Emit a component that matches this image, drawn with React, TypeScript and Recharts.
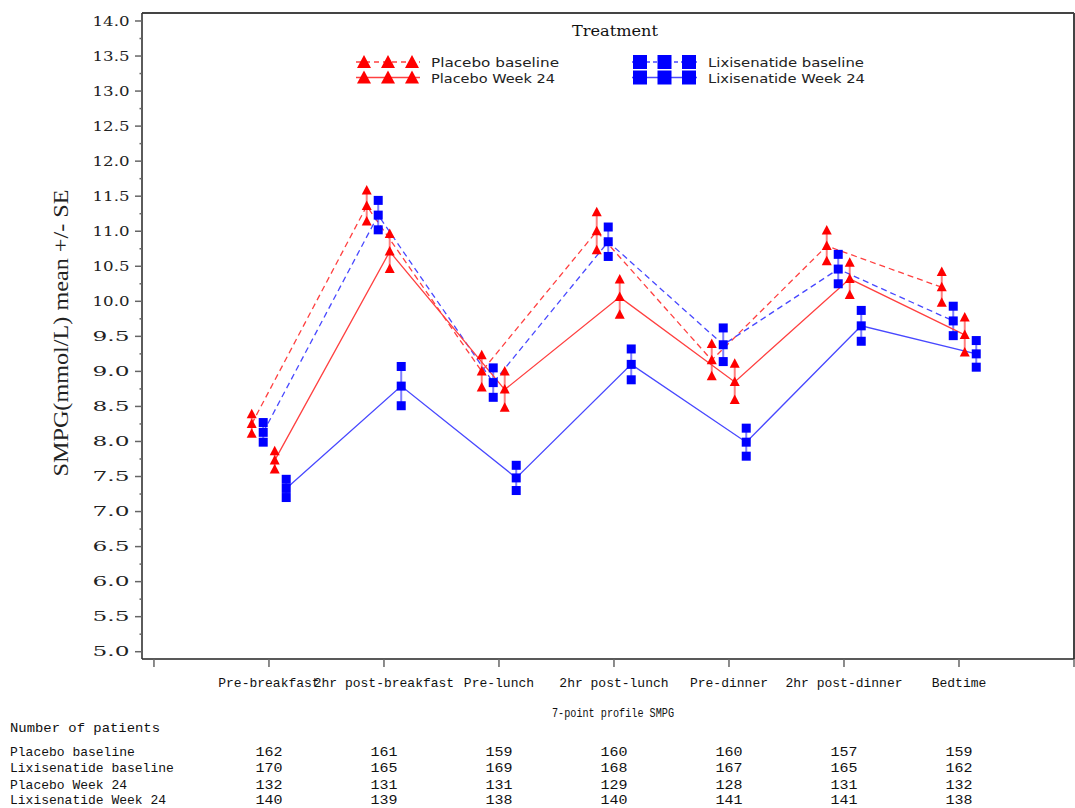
import React from 'react';
import { ComposedChart, Line, Scatter, XAxis, YAxis, ErrorBar, ReferenceLine } from 'recharts';

// ---------- data ----------
const categories = ['Pre-breakfast', '2hr post-breakfast', 'Pre-lunch', '2hr post-lunch', 'Pre-dinner', '2hr post-dinner', 'Bedtime'];

const placeboBaselineMean = [8.25, 11.36, 9.0, 11.0, 9.16, 10.79, 10.2];
const placeboBaselineSE = [0.14, 0.22, 0.23, 0.27, 0.23, 0.22, 0.22];
const lixiBaselineMean = [8.13, 11.23, 8.84, 10.85, 9.38, 10.46, 9.72];
const lixiBaselineSE = [0.14, 0.21, 0.21, 0.21, 0.24, 0.21, 0.21];
const placeboW24Mean = [7.73, 10.71, 8.74, 10.06, 8.85, 10.32, 9.52];
const placeboW24SE = [0.13, 0.25, 0.26, 0.25, 0.26, 0.23, 0.25];
const lixiW24Mean = [7.33, 8.79, 7.48, 9.1, 7.99, 9.65, 9.25];
const lixiW24SE = [0.13, 0.28, 0.18, 0.22, 0.2, 0.22, 0.19];

const nPlaceboBaseline = [162, 161, 159, 160, 160, 157, 159];
const nLixiBaseline = [170, 165, 169, 168, 167, 165, 162];
const nPlaceboW24 = [132, 131, 131, 129, 128, 131, 132];
const nLixiW24 = [140, 139, 138, 140, 141, 141, 138];

const yMajorTicks = [5.0, 5.5, 6.0, 6.5, 7.0, 7.5, 8.0, 8.5, 9.0, 9.5, 10.0, 10.5, 11.0, 11.5, 12.0, 12.5, 13.0, 13.5, 14.0];
const yMinorTicks = [5.25, 5.75, 6.25, 6.75, 7.25, 7.75, 8.25, 8.75, 9.25, 9.75, 10.25, 10.75, 11.25, 11.75, 12.25, 12.75, 13.25, 13.75];
const xTicks = [0, 1, 2, 3, 4, 5, 6, 7, 8];

// ---------- layout ----------
const W = 1075;
const H = 808;
const PLOT_LEFT = 142;
const PLOT_RIGHT = 1074;
const PLOT_TOP = 13;
const PLOT_BOTTOM = 659;
const X_MIN = -0.104;
const X_MAX = 8;
const Y_MIN = 4.896;
const Y_MAX = 14.114;

const RED = '#ff0000';
const BLUE = '#0000ff';

type Series = {
  name: string;
  mean: number[];
  se: number[];
  offset: number;
  color: string;
  lineColor: string;
  dashed: boolean;
  marker: 'triangle' | 'square';
};

const series: Series[] = [
  { name: 'Placebo baseline', mean: placeboBaselineMean, se: placeboBaselineSE, offset: -0.15, color: RED, lineColor: '#ff4040', dashed: true, marker: 'triangle' },
  { name: 'Lixisenatide baseline', mean: lixiBaselineMean, se: lixiBaselineSE, offset: -0.05, color: BLUE, lineColor: '#4848ff', dashed: true, marker: 'square' },
  { name: 'Placebo Week 24', mean: placeboW24Mean, se: placeboW24SE, offset: 0.05, color: RED, lineColor: '#ff4040', dashed: false, marker: 'triangle' },
  { name: 'Lixisenatide Week 24', mean: lixiW24Mean, se: lixiW24SE, offset: 0.15, color: BLUE, lineColor: '#4848ff', dashed: false, marker: 'square' },
];

const lineData = (s: Series) => categories.map((_, i) => ({ x: i + 1 + s.offset, y: s.mean[i], se: s.se[i] }));
const markerData = (s: Series) =>
  categories.flatMap((_, i) => [
    { x: i + 1 + s.offset, y: s.mean[i] - s.se[i] },
    { x: i + 1 + s.offset, y: s.mean[i] },
    { x: i + 1 + s.offset, y: s.mean[i] + s.se[i] },
  ]);

const TriangleShape = (color: string) => (p: any) => {
  const { cx, cy } = p;
  if (cx == null || cy == null) return <g />;
  return <path d={`M${cx},${cy - 5.5} L${cx + 5},${cy + 4} L${cx - 5},${cy + 4} Z`} fill={color} />;
};
const SquareShape = (color: string) => (p: any) => {
  const { cx, cy } = p;
  if (cx == null || cy == null) return <g />;
  return <rect x={cx - 4.5} y={cy - 4.5} width={9} height={9} fill={color} />;
};

const XTick = (props: any) => {
  const { x, y, payload } = props;
  const v = payload.value as number;
  const label = v >= 1 && v <= 7 ? categories[v - 1] : '';
  return (
    <g>
      <line x1={x} x2={x} y1={y} y2={y + 8} stroke="#666" strokeWidth={1.5} />
      {label ? (
        <text x={x} y={y + 28} textAnchor="middle" fontFamily="Liberation Mono" fontSize={13} fill="#111">
          {label}
        </text>
      ) : null}
    </g>
  );
};

const YTick = (props: any) => {
  const { x, y, payload } = props;
  const v = payload.value as number;
  const major = yMajorTicks.includes(v);
  return (
    <g>
      <line x1={x - (major ? 7 : 2.5)} x2={x} y1={y} y2={y} stroke="#666" strokeWidth={1.5} />
      {major ? (
        <text x={129.5} y={y + 4.7} textAnchor="end" fontFamily="DejaVu Serif" fontSize={13} fill="#222" textLength={37} lengthAdjust="spacingAndGlyphs">
          {v.toFixed(1)}
        </text>
      ) : null}
    </g>
  );
};

const xPix = (v: number) => PLOT_LEFT + ((v - X_MIN) * (PLOT_RIGHT - PLOT_LEFT)) / (X_MAX - X_MIN);

const allYTicks = [...yMajorTicks, ...yMinorTicks].sort((a, b) => a - b);

const tableRows: { label: string; n: number[] }[] = [
  { label: 'Placebo baseline', n: nPlaceboBaseline },
  { label: 'Lixisenatide baseline', n: nLixiBaseline },
  { label: 'Placebo Week 24', n: nPlaceboW24 },
  { label: 'Lixisenatide Week 24', n: nLixiW24 },
];
const tableRowY = [755.5, 772, 788.5, 804];

const legendTriX = [364, 388, 412];
const legendSqX = [640, 664.5, 689];

const Legend = () => (
  <g>
    <text x={615} y={36} textAnchor="middle" fontFamily="DejaVu Serif" fontSize={14} fill="#111" textLength={86} lengthAdjust="spacingAndGlyphs">
      Treatment
    </text>
    {[0, 1].map((r) => {
      const cy = r === 0 ? 62 : 77.5;
      return (
        <g key={'p' + r}>
          <line x1={356} x2={420} y1={cy} y2={cy} stroke="#ff4040" strokeWidth={1.3} strokeDasharray={r === 0 ? '5 4' : undefined} />
          {legendTriX.map((cx) => (
            <path key={cx} d={`M${cx},${cy - 7} L${cx + 7},${cy + 6} L${cx - 7},${cy + 6} Z`} fill={RED} />
          ))}
          <text x={431} y={cy + 5} fontFamily="DejaVu Sans" fontSize={12.5} fill="#222" textLength={r === 0 ? 128 : 124} lengthAdjust="spacingAndGlyphs">
            {r === 0 ? 'Placebo baseline' : 'Placebo Week 24'}
          </text>
        </g>
      );
    })}
    {[0, 1].map((r) => {
      const cy = r === 0 ? 62 : 77.5;
      return (
        <g key={'l' + r}>
          <line x1={632} x2={697} y1={cy} y2={cy} stroke="#4848ff" strokeWidth={1.3} strokeDasharray={r === 0 ? '4 3' : undefined} />
          {legendSqX.map((cx) => (
            <rect key={cx} x={cx - 7} y={cy - 7} width={14} height={14} fill={BLUE} />
          ))}
          <text x={708} y={cy + 5} fontFamily="DejaVu Sans" fontSize={12.5} fill="#222" textLength={r === 0 ? 156 : 157} lengthAdjust="spacingAndGlyphs">
            {r === 0 ? 'Lixisenatide baseline' : 'Lixisenatide Week 24'}
          </text>
        </g>
      );
    })}
  </g>
);

export default function App() {
  return (
    <div style={{ position: 'absolute', left: 0, top: 0, width: W, height: H, background: '#fff', overflow: 'hidden' }}>
      <ComposedChart width={W} height={H} margin={{ top: PLOT_TOP, right: W - PLOT_RIGHT, bottom: 0, left: 0 }}>
        <XAxis
          type="number"
          dataKey="x"
          domain={[X_MIN, X_MAX]}
          ticks={xTicks}
          interval={0}
          allowDataOverflow
          height={H - PLOT_BOTTOM}
          tickSize={0}
          tickMargin={0}
          tickLine={false}
          tick={<XTick />}
          axisLine={{ stroke: '#222', strokeWidth: 1.6 }}
        />
        <YAxis
          type="number"
          domain={[Y_MIN, Y_MAX]}
          ticks={allYTicks}
          interval={0}
          allowDataOverflow
          width={PLOT_LEFT}
          tickSize={0}
          tickMargin={0}
          tickLine={false}
          tick={<YTick />}
          axisLine={{ stroke: '#333', strokeWidth: 1.6 }}
        />
        <ReferenceLine y={Y_MAX} stroke="#444" strokeWidth={2} ifOverflow="visible" />
        <ReferenceLine x={X_MAX} stroke="#444" strokeWidth={2} ifOverflow="visible" />
        {series.map((s) => (
          <Line
            key={'line-' + s.name}
            data={lineData(s)}
            dataKey="y"
            name={s.name}
            stroke={s.lineColor}
            strokeWidth={1.3}
            strokeDasharray={s.dashed ? '6 4' : undefined}
            dot={false}
            activeDot={false}
            isAnimationActive={false}
          >
            <ErrorBar dataKey="se" width={0} stroke={s.color} strokeOpacity={0.5} strokeWidth={2} direction="y" />
          </Line>
        ))}
        {series.map((s) => (
          <Scatter
            key={'mk-' + s.name}
            data={markerData(s)}
            dataKey="y"
            name={s.name + ' markers'}
            isAnimationActive={false}
            shape={s.marker === 'triangle' ? TriangleShape(s.color) : SquareShape(s.color)}
          />
        ))}
      </ComposedChart>
      <svg width={W} height={H} style={{ position: 'absolute', left: 0, top: 0, pointerEvents: 'none' }}>
        <Legend />
        <text
          transform="translate(68,333) rotate(-90)"
          textAnchor="middle"
          fontFamily="Liberation Serif"
          fontSize={20}
          fill="#222"
          textLength={287}
          lengthAdjust="spacingAndGlyphs"
        >
          SMPG(mmol/L) mean +/- SE
        </text>
        <text x={613} y={717} textAnchor="middle" fontFamily="Liberation Mono" fontSize={12} fill="#111" textLength={122} lengthAdjust="spacingAndGlyphs">
          7-point profile SMPG
        </text>
        <text x={10} y={732} fontFamily="Liberation Mono" fontSize={13} fill="#111" textLength={150} lengthAdjust="spacingAndGlyphs">
          Number of patients
        </text>
        {tableRows.map((row, r) => (
          <g key={row.label}>
            <text x={10} y={tableRowY[r]} fontFamily="Liberation Mono" fontSize={13} fill="#111">
              {row.label}
            </text>
            {row.n.map((n, i) => (
              <text key={i} x={xPix(i + 1)} y={tableRowY[r]} textAnchor="middle" fontFamily="Liberation Mono" fontSize={13} fill="#111" textLength={27} lengthAdjust="spacingAndGlyphs">
                {n}
              </text>
            ))}
          </g>
        ))}
      </svg>
    </div>
  );
}
